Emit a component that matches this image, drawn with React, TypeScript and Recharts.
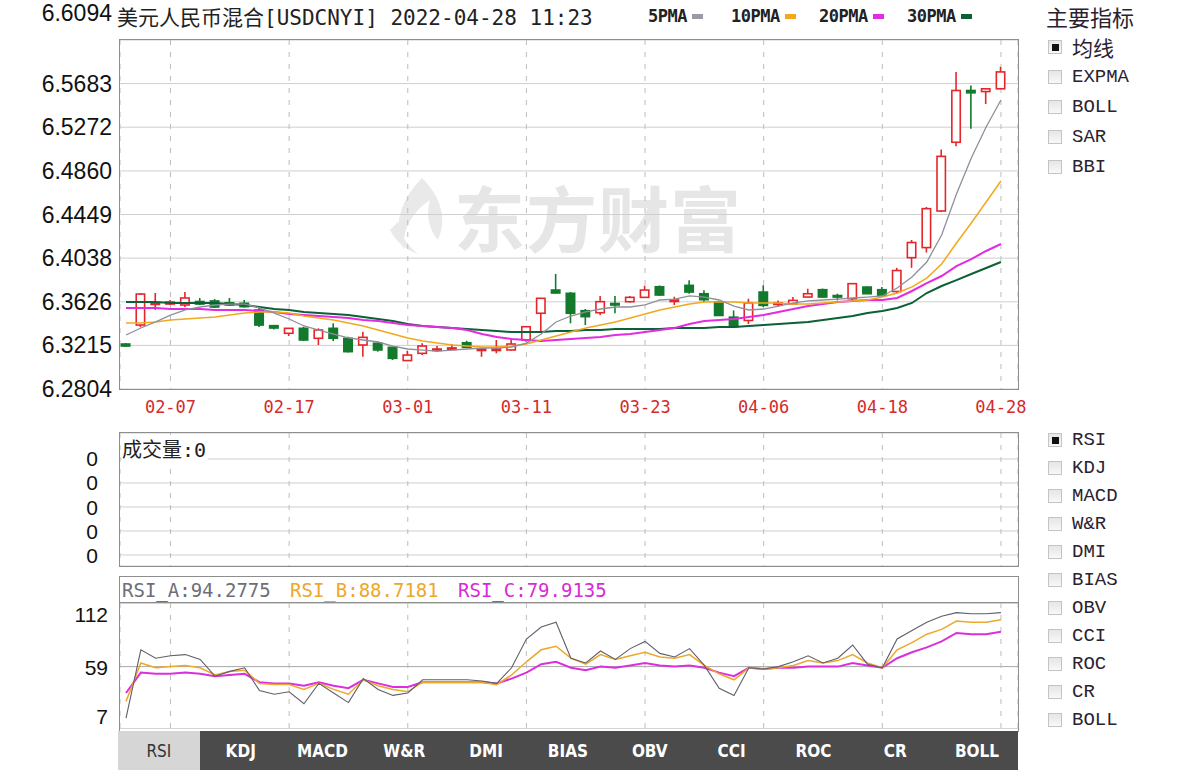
import { ComposedChart, LineChart, Line, Bar, XAxis, YAxis, CartesianGrid } from "recharts";

// trading days shown on the chart
const dates = [
  "01-26", "01-27", "01-28", "02-07", "02-08", "02-09", "02-10", "02-11", "02-14", "02-15",
  "02-16", "02-17", "02-18", "02-21", "02-22", "02-23", "02-24", "02-25", "02-28", "03-01",
  "03-02", "03-03", "03-04", "03-07", "03-08", "03-09", "03-10", "03-11", "03-14", "03-15",
  "03-16", "03-17", "03-18", "03-21", "03-22", "03-23", "03-24", "03-25", "03-28", "03-29",
  "03-30", "03-31", "04-01", "04-06", "04-07", "04-08", "04-11", "04-12", "04-13", "04-14",
  "04-15", "04-18", "04-19", "04-20", "04-21", "04-22", "04-25", "04-26", "04-27", "04-28",
];

const opens = [
  6.3228, 6.3407, 6.3605, 6.3605, 6.3596, 6.3629, 6.3634, 6.3617, 6.3612, 6.3548,
  6.3401, 6.3329, 6.3376, 6.3282, 6.3376, 6.3282, 6.3219, 6.3235, 6.3197, 6.3072,
  6.3140, 6.3167, 6.3181, 6.3240, 6.3172, 6.3172, 6.3172, 6.3266, 6.3518, 6.3737,
  6.3706, 6.3542, 6.3523, 6.3610, 6.3627, 6.3668, 6.3768, 6.3634, 6.3781, 6.3702,
  6.3624, 6.3481, 6.3450, 6.3718, 6.3605, 6.3607, 6.3671, 6.3740, 6.3685, 6.3655,
  6.3765, 6.3740, 6.3723, 6.4042, 6.4137, 6.4482, 6.5130, 6.5618, 6.5608, 6.5634,
];
const highs = [
  6.3238, 6.3709, 6.3709, 6.3643, 6.3718, 6.3662, 6.3652, 6.3662, 6.3643, 6.3567,
  6.3407, 6.3379, 6.3391, 6.3376, 6.3423, 6.3297, 6.3344, 6.3250, 6.3204, 6.3165,
  6.3235, 6.3209, 6.3228, 6.3259, 6.3191, 6.3266, 6.3266, 6.3398, 6.3662, 6.3888,
  6.3718, 6.3558, 6.3681, 6.3681, 6.3681, 6.3778, 6.3780, 6.3674, 6.3829, 6.3734,
  6.3634, 6.3544, 6.3655, 6.3781, 6.3639, 6.3671, 6.3749, 6.3751, 6.3702, 6.3803,
  6.3770, 6.3765, 6.3946, 6.4209, 6.4520, 6.5061, 6.5793, 6.5666, 6.5637, 6.5841,
];
const lows = [
  6.3200, 6.3388, 6.3549, 6.3596, 6.3577, 6.3596, 6.3567, 6.3586, 6.3572, 6.3388,
  6.3365, 6.3304, 6.3256, 6.3219, 6.3256, 6.3148, 6.3108, 6.3156, 6.3077, 6.3068,
  6.3124, 6.3156, 6.3172, 6.3190, 6.3108, 6.3140, 6.3167, 6.3250, 6.3344, 6.3704,
  6.3423, 6.3407, 6.3501, 6.3518, 6.3619, 6.3666, 6.3681, 6.3596, 6.3702, 6.3624,
  6.3492, 6.3388, 6.3417, 6.3577, 6.3577, 6.3600, 6.3666, 6.3666, 6.3639, 6.3624,
  6.3699, 6.3681, 6.3702, 6.3946, 6.4090, 6.4472, 6.5093, 6.5258, 6.5491, 6.5632,
];
const closes = [
  6.3209, 6.3699, 6.3615, 6.3624, 6.3662, 6.3605, 6.3577, 6.3596, 6.3580, 6.3407,
  6.3379, 6.3376, 6.3266, 6.3360, 6.3282, 6.3156, 6.3291, 6.3172, 6.3093, 6.3124,
  6.3209, 6.3181, 6.3191, 6.3197, 6.3181, 6.3181, 6.3228, 6.3391, 6.3659, 6.3709,
  6.3518, 6.3486, 6.3627, 6.3601, 6.3668, 6.3737, 6.3690, 6.3643, 6.3718, 6.3646,
  6.3497, 6.3392, 6.3615, 6.3592, 6.3615, 6.3639, 6.3702, 6.3671, 6.3671, 6.3797,
  6.3702, 6.3686, 6.3921, 6.4185, 6.4504, 6.4997, 6.5618, 6.5596, 6.5634, 6.5793,
];

const ma5 = [
  6.3313, 6.3379, 6.3436, 6.3501, 6.3549, 6.3577, 6.3596, 6.3605, 6.3605, 6.3568,
  6.3520, 6.3464, 6.3398, 6.3360, 6.3322, 6.3285, 6.3266, 6.3247, 6.3209, 6.3181,
  6.3171, 6.3162, 6.3171, 6.3181, 6.3190, 6.3190, 6.3200, 6.3237, 6.3322, 6.3436,
  6.3492, 6.3530, 6.3558, 6.3577, 6.3577, 6.3596, 6.3643, 6.3652, 6.3681, 6.3671,
  6.3643, 6.3586, 6.3549, 6.3558, 6.3586, 6.3615, 6.3634, 6.3643, 6.3652, 6.3662,
  6.3671, 6.3681, 6.3756, 6.3860, 6.4001, 6.4256, 6.4642, 6.4982, 6.5274, 6.5528,
];
const ma10 = [
  6.3426, 6.3426, 6.3436, 6.3454, 6.3464, 6.3473, 6.3483, 6.3501, 6.3520, 6.3530,
  6.3530, 6.3520, 6.3492, 6.3473, 6.3454, 6.3426, 6.3398, 6.3360, 6.3322, 6.3285,
  6.3256, 6.3237, 6.3218, 6.3209, 6.3200, 6.3200, 6.3209, 6.3228, 6.3266, 6.3304,
  6.3341, 6.3379, 6.3407, 6.3436, 6.3473, 6.3511, 6.3549, 6.3577, 6.3605, 6.3624,
  6.3624, 6.3624, 6.3615, 6.3615, 6.3615, 6.3605, 6.3605, 6.3615, 6.3624, 6.3634,
  6.3643, 6.3671, 6.3709, 6.3766, 6.3850, 6.3982, 6.4180, 6.4369, 6.4567, 6.4765,
];
const ma20 = [
  6.3568, 6.3568, 6.3568, 6.3558, 6.3558, 6.3558, 6.3549, 6.3549, 6.3549, 6.3539,
  6.3530, 6.3511, 6.3501, 6.3492, 6.3483, 6.3473, 6.3454, 6.3445, 6.3426, 6.3407,
  6.3398, 6.3388, 6.3379, 6.3360, 6.3322, 6.3294, 6.3275, 6.3266, 6.3256, 6.3266,
  6.3275, 6.3285, 6.3294, 6.3313, 6.3322, 6.3341, 6.3360, 6.3379, 6.3417, 6.3445,
  6.3454, 6.3464, 6.3483, 6.3501, 6.3530, 6.3558, 6.3586, 6.3605, 6.3624, 6.3634,
  6.3643, 6.3643, 6.3662, 6.3728, 6.3803, 6.3869, 6.3963, 6.4029, 6.4105, 6.4171,
];
const ma30 = [
  6.3624, 6.3624, 6.3624, 6.3615, 6.3615, 6.3615, 6.3615, 6.3605, 6.3596, 6.3577,
  6.3558, 6.3549, 6.3530, 6.3520, 6.3511, 6.3501, 6.3483, 6.3464, 6.3445, 6.3417,
  6.3398, 6.3388, 6.3379, 6.3370, 6.3360, 6.3351, 6.3341, 6.3341, 6.3341, 6.3351,
  6.3351, 6.3360, 6.3360, 6.3370, 6.3370, 6.3370, 6.3370, 6.3379, 6.3379, 6.3379,
  6.3388, 6.3388, 6.3398, 6.3407, 6.3417, 6.3426, 6.3436, 6.3454, 6.3473, 6.3492,
  6.3520, 6.3539, 6.3568, 6.3615, 6.3709, 6.3775, 6.3831, 6.3888, 6.3945, 6.4001,
];

const rsiA = [
  16, 73, 66, 68, 69, 65, 51, 55, 58, 39,
  36, 38, 28, 45, 37, 29, 49, 40, 35, 37,
  48, 48, 48, 48, 47, 45, 58, 82, 92, 96,
  66, 62, 72, 65, 74, 80, 70, 67, 74, 60,
  41, 35, 58, 57, 59, 63, 68, 62, 66, 77,
  61, 58, 82, 89, 96, 101, 104, 103, 103, 104,
];
const rsiB = [
  30, 62, 58, 59, 60, 58, 52, 55, 56, 45,
  44, 44, 40, 45, 40, 36, 48, 43, 40, 38,
  46, 46, 46, 46, 46, 44, 52, 63, 73, 76,
  66, 61, 69, 65, 68, 71, 67, 66, 69, 60,
  53, 48, 58, 57, 58, 60, 64, 62, 64, 69,
  62, 58, 73, 79, 86, 90, 97, 96, 96, 98,
];
const rsiC = [
  37, 54, 53, 53, 54, 53, 51, 52, 53, 46,
  45, 45, 43, 46, 43, 41, 48, 45, 42, 42,
  46, 46, 46, 46, 46, 45, 49, 54, 61, 63,
  58, 56, 59, 58, 60, 62, 60, 59, 60, 58,
  54, 51, 58, 57, 58, 58, 59, 59, 59, 62,
  60, 58, 66, 71, 75, 80, 87, 86, 86, 88,
];

const priceTicks = [6.2804, 6.3215, 6.3626, 6.4038, 6.4449, 6.486, 6.5272, 6.5683, 6.6094];
const dateTicks = ["02-07", "02-17", "03-01", "03-11", "03-23", "04-06", "04-18", "04-28"];
const rsiTicks = [7, 59, 112];
const volumeTicks = [0, 1, 2, 3, 4];

const maLegend = [
  { name: "5PMA", color: "#9a9aa6", x: 648 },
  { name: "10PMA", color: "#f2a81d", x: 731 },
  { name: "20PMA", color: "#e22ce2", x: 819 },
  { name: "30PMA", color: "#0b6135", x: 907 },
];
const rsiLegend = [
  { name: "RSI_A", value: "94.2775", color: "#6e6e7a", x: 122 },
  { name: "RSI_B", value: "88.7181", color: "#eda72a", x: 290 },
  { name: "RSI_C", value: "79.9135", color: "#d62cd6", x: 458 },
];
const mainIndicators = ["均线", "EXPMA", "BOLL", "SAR", "BBI"];
const subIndicators = ["RSI", "KDJ", "MACD", "W&R", "DMI", "BIAS", "OBV", "CCI", "ROC", "CR", "BOLL"];

const data = dates.map((d, i) => ({
  i,
  date: d,
  open: opens[i],
  high: highs[i],
  low: lows[i],
  close: closes[i],
  range: [lows[i], highs[i]],
  ma5: ma5[i],
  ma10: ma10[i],
  ma20: ma20[i],
  ma30: ma30[i],
  rsiA: rsiA[i],
  rsiB: rsiB[i],
  rsiC: rsiC[i],
}));

const xDomain = [-0.405, 60.15];
const dateTickIdx = dateTicks.map((t) => dates.indexOf(t));
const UP = "#e4262b";
const DOWN = "#13792c";
const MONO = "'DejaVu Sans Mono', 'Noto Sans CJK SC', monospace";
const SANS = "'Liberation Sans', Arial, sans-serif";
const CJK = "'Noto Sans CJK SC', sans-serif";

function Candle(props: any) {
  const { x, y, width, height, payload } = props;
  if (x == null || y == null) return null;
  const { open, close, high, low } = payload;
  const up = close >= open;
  const color = up ? UP : DOWN;
  const top = Math.min(y, y + height);
  const h = Math.abs(height);
  const span = high - low || 1;
  const yOf = (v: number) => top + ((high - v) / span) * h;
  const bTop = yOf(Math.max(open, close));
  const bBot = Math.max(yOf(Math.min(open, close)), bTop + 1.5);
  const cx = x + width / 2;
  return (
    <g>
      <line x1={cx} x2={cx} y1={top} y2={bTop} stroke={color} strokeWidth={1.6} />
      <line x1={cx} x2={cx} y1={bBot} y2={top + h} stroke={color} strokeWidth={1.6} />
      <rect
        x={x + 0.8}
        y={bTop}
        width={width - 1.6}
        height={bBot - bTop}
        fill={up ? "#ffffff" : color}
        stroke={color}
        strokeWidth={1.6}
      />
    </g>
  );
}

function PriceTick(props: any) {
  const { x, y, payload } = props;
  const isTop = payload.value === priceTicks[priceTicks.length - 1];
  return (
    <text x={x} y={y + (isTop ? -27 : 0)} textAnchor="end" dominantBaseline="central" fontSize={23} fill="#111" fontFamily={SANS}>
      {payload.value.toFixed(4)}
    </text>
  );
}

function RsiTick(props: any) {
  const { x, y, payload } = props;
  const shift = payload.value === 112 ? 11 : payload.value === 7 ? -13 : 1;
  return (
    <text x={x - 4} y={y + shift} textAnchor="end" dominantBaseline="central" fontSize={21} fill="#111" fontFamily={SANS}>
      {payload.value}
    </text>
  );
}

function VolTick(props: any) {
  const { x, y } = props;
  return (
    <text x={x - 14} y={y} textAnchor="end" dominantBaseline="central" fontSize={21} fill="#111" fontFamily={SANS}>
      0
    </text>
  );
}

function CheckBox({ checked }: { checked?: boolean }) {
  return (
    <div
      style={{
        width: 14,
        height: 14,
        border: "1px solid #c4c4c4",
        background: "linear-gradient(#e6e6e6, #f8f8f8)",
        position: "relative",
        boxSizing: "border-box",
      }}
    >
      {checked && (
        <div style={{ position: "absolute", left: 3, top: 3, width: 7, height: 7, background: "#111" }} />
      )}
    </div>
  );
}

function Box({ left, top, width, height }: { left: number; top: number; width: number; height: number }) {
  return (
    <div
      style={{
        position: "absolute",
        left,
        top,
        width,
        height,
        border: "1px solid #8e8e8e",
        boxSizing: "border-box",
        pointerEvents: "none",
      }}
    />
  );
}

export default function App() {
  return (
    <div
      style={{
        position: "absolute",
        left: 0,
        top: 0,
        width: 1184,
        height: 778,
        background: "#fff",
        overflow: "hidden",
        fontFamily: CJK,
        color: "#222",
      }}
    >
      {/* title row */}
      <div style={{ position: "absolute", left: 117, top: 3, fontSize: 21, lineHeight: "26px", whiteSpace: "nowrap" }}>
        <span style={{ fontFamily: CJK }}>美元人民币混合</span>
        <span style={{ fontFamily: MONO, fontSize: 21 }}>[USDCNYI] 2022-04-28 11:23</span>
      </div>
      {maLegend.map((m) => (
        <div
          key={m.name}
          style={{ position: "absolute", left: m.x, top: 5, fontFamily: MONO, fontSize: 17, fontWeight: "bold", lineHeight: "22px", display: "flex", alignItems: "center", whiteSpace: "nowrap", letterSpacing: -0.5 }}
        >
          {m.name}
          <span style={{ display: "inline-block", width: 11, height: 5, background: m.color, marginLeft: 5 }} />
        </div>
      ))}

      {/* watermark */}
      <svg style={{ position: "absolute", left: 382, top: 170 }} width={80} height={90}>
        <path d="M40 8 C18 30 10 58 22 80 C20 60 30 42 48 30 C44 44 46 58 56 70 C64 52 62 30 40 8 Z" fill="#e9e9e9" />
        <path d="M8 60 C14 72 24 80 36 84 C24 74 18 64 16 52 Z" fill="#e9e9e9" />
      </svg>
      <div style={{ position: "absolute", left: 454, top: 170, fontSize: 71, fontWeight: "bold", color: "#e6e6e6", fontFamily: CJK, lineHeight: "90px", letterSpacing: 1 }}>
        东方财富
      </div>

      {/* main price chart */}
      <div style={{ position: "absolute", left: 0, top: 0 }}>
        <ComposedChart width={1030} height={420} data={data} margin={{ top: 40, right: 12, bottom: 0, left: 0 }}>
          <CartesianGrid vertical={false} stroke="#cfcfcf" />
          <CartesianGrid horizontal={false} stroke="#bdbdbd" strokeDasharray="5 7" />
          <XAxis
            dataKey="i"
            type="number"
            domain={xDomain}
            ticks={dateTickIdx}
            interval={0}
            allowDataOverflow
            height={31}
            axisLine={false}
            tickLine={false}
            tickMargin={6}
            tickFormatter={(v) => dates[v]}
            tick={{ fill: "#d42a2a", fontSize: 17, fontFamily: MONO }}
          />
          <YAxis
            type="number"
            domain={[priceTicks[0], priceTicks[priceTicks.length - 1]]}
            ticks={priceTicks}
            interval={0}
            allowDataOverflow
            width={120}
            axisLine={false}
            tickLine={false}
            tick={(p: any) => <PriceTick {...p} />}
          />
          <Bar dataKey="range" barSize={10} isAnimationActive={false} shape={(p: any) => <Candle {...p} />} />
          <Line dataKey="ma30" stroke="#0b6135" strokeWidth={2} dot={false} isAnimationActive={false} />
          <Line dataKey="ma20" stroke="#e22ce2" strokeWidth={2} dot={false} isAnimationActive={false} />
          <Line dataKey="ma10" stroke="#f2a81d" strokeWidth={1.5} dot={false} isAnimationActive={false} />
          <Line dataKey="ma5" stroke="#8f8f9c" strokeWidth={1.3} dot={false} isAnimationActive={false} />
        </ComposedChart>
      </div>
      <Box left={119} top={39} width={900} height={351} />

      {/* volume panel */}
      <div style={{ position: "absolute", left: 0, top: 433 }}>
        <ComposedChart width={1030} height={133} data={data} margin={{ top: 0, right: 12, bottom: 0, left: 0 }}>
          <CartesianGrid vertical={false} stroke="#cfcfcf" />
          <CartesianGrid horizontal={false} stroke="#bdbdbd" strokeDasharray="5 7" />
          <XAxis dataKey="i" type="number" domain={xDomain} ticks={dateTickIdx} interval={0} allowDataOverflow hide />
          <YAxis
            type="number"
            domain={[-0.458, 5.083]}
            ticks={volumeTicks}
            interval={0}
            allowDataOverflow
            width={120}
            axisLine={false}
            tickLine={false}
            tick={(p: any) => <VolTick {...p} />}
          />
        </ComposedChart>
      </div>
      <Box left={119} top={432} width={900} height={135} />
      <div style={{ position: "absolute", left: 122, top: 435, fontSize: 20, lineHeight: "28px", background: "#fff", paddingRight: 2 }}>
        成交量<span style={{ fontFamily: MONO }}>:0</span>
      </div>

      {/* RSI panel */}
      <div style={{ position: "absolute", left: 0, top: 603 }}>
        <LineChart width={1030} height={126} data={data} margin={{ top: 0, right: 12, bottom: 0, left: 0 }}>
          <CartesianGrid vertical={false} stroke="#a8a8a8" />
          <CartesianGrid horizontal={false} stroke="#bdbdbd" strokeDasharray="5 7" />
          <XAxis dataKey="i" type="number" domain={xDomain} ticks={dateTickIdx} interval={0} allowDataOverflow hide />
          <YAxis
            type="number"
            domain={[7, 112]}
            ticks={rsiTicks}
            interval={0}
            allowDataOverflow
            width={120}
            axisLine={false}
            tickLine={false}
            tick={(p: any) => <RsiTick {...p} />}
          />
          <Line dataKey="rsiC" stroke="#dc2fdc" strokeWidth={2} dot={false} isAnimationActive={false} />
          <Line dataKey="rsiB" stroke="#eda72a" strokeWidth={1.5} dot={false} isAnimationActive={false} />
          <Line dataKey="rsiA" stroke="#5f5f6b" strokeWidth={1.1} dot={false} isAnimationActive={false} />
        </LineChart>
      </div>
      <Box left={119} top={576} width={900} height={156} />
      <div style={{ position: "absolute", left: 119, top: 602, width: 900, height: 1, background: "#8e8e8e" }} />
      {rsiLegend.map((r) => (
        <div key={r.name} style={{ position: "absolute", left: r.x, top: 578, fontFamily: MONO, fontSize: 19, lineHeight: "24px", color: r.color, whiteSpace: "nowrap" }}>
          {r.name}:{r.value}
        </div>
      ))}

      {/* indicator tabs */}
      <div style={{ position: "absolute", left: 118, top: 731, width: 900, height: 39, background: "#4b4b4b", display: "flex" }}>
        {subIndicators.map((t, k) => (
          <div
            key={t + k}
            style={{
              flex: 1,
              display: "flex",
              alignItems: "center",
              justifyContent: "center",
              background: k === 0 ? "#d6d6d6" : "transparent",
              color: k === 0 ? "#333" : "#fff",
              fontFamily: "'DejaVu Sans Condensed', 'DejaVu Sans', sans-serif",
              fontWeight: k === 0 ? "normal" : "bold",
              fontSize: 17,
            }}
          >
            {t}
          </div>
        ))}
      </div>

      {/* side panel */}
      <div style={{ position: "absolute", left: 1046, top: 2, fontSize: 22, lineHeight: "28px", color: "#2a2230" }}>主要指标</div>
      {mainIndicators.map((t, k) => (
        <div key={t} style={{ position: "absolute", left: 1048, top: 36 + k * 30, height: 22, display: "flex", alignItems: "center", gap: 10 }}>
          <CheckBox checked={k === 0} />
          <span style={{ fontFamily: k === 0 ? CJK : "'Liberation Mono', monospace", fontSize: k === 0 ? 21 : 19, color: "#2a2230" }}>{t}</span>
        </div>
      ))}
      {subIndicators.map((t, k) => (
        <div key={t + k} style={{ position: "absolute", left: 1048, top: 429 + k * 28, height: 22, display: "flex", alignItems: "center", gap: 10 }}>
          <CheckBox checked={k === 0} />
          <span style={{ fontFamily: "'Liberation Mono', monospace", fontSize: 19, color: "#2a2230" }}>{t}</span>
        </div>
      ))}
    </div>
  );
}
